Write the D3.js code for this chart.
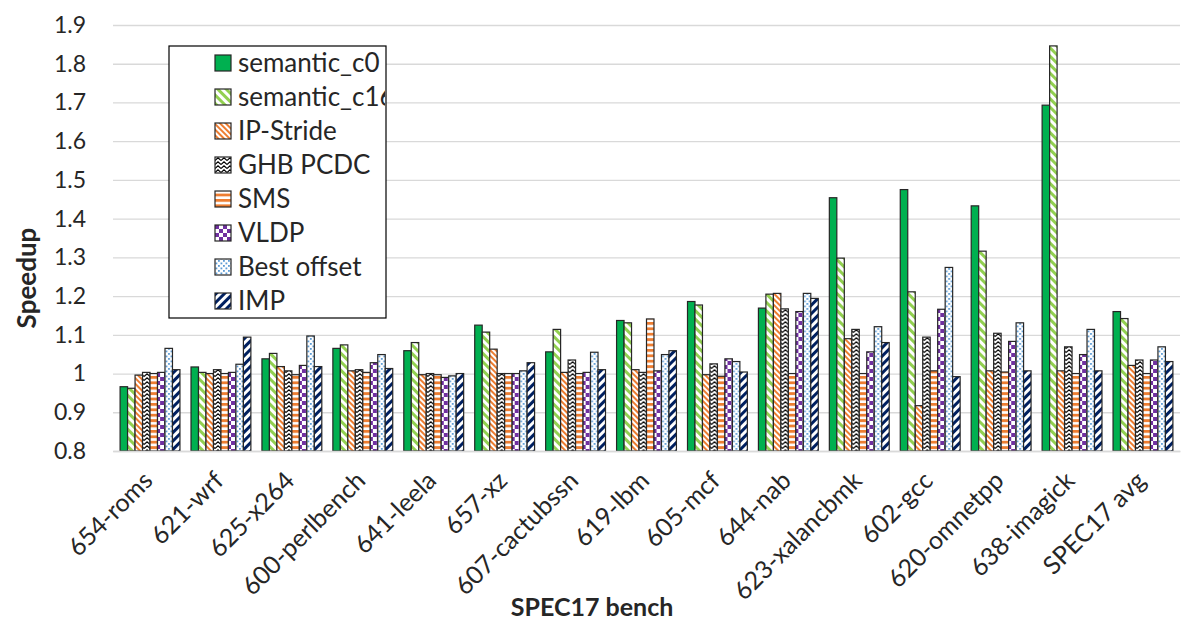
<!DOCTYPE html>
<html>
<head>
<meta charset="utf-8">
<script src="https://cdn.jsdelivr.net/npm/d3@7"></script>
<style>
    body { margin: 0; background: #fff; }
    svg { display: block; font-family: Lato, "Open Sans", sans-serif; }
</style>
</head>
<body>
<div id="chart"></div>
<script>
const benchmarks = ["654-roms", "621-wrf", "625-x264", "600-perlbench", "641-leela", "657-xz",
    "607-cactubssn", "619-lbm", "605-mcf", "644-nab", "623-xalancbmk", "602-gcc",
    "620-omnetpp", "638-imagick", "SPEC17 avg"];

const seriesNames = ["semantic_c0", "semantic_c16", "IP-Stride", "GHB PCDC", "SMS", "VLDP", "Best offset", "IMP"];

const semanticC0  = [0.966, 1.017, 1.038, 1.065, 1.059, 1.125, 1.056, 1.137, 1.186, 1.169, 1.454, 1.475, 1.433, 1.693, 1.160];
const semanticC16 = [0.962, 1.003, 1.052, 1.074, 1.080, 1.107, 1.114, 1.131, 1.177, 1.205, 1.298, 1.211, 1.316, 1.846, 1.142];
const ipStride    = [0.996, 1.000, 1.018, 1.007, 0.997, 1.063, 1.003, 1.010, 0.997, 1.207, 1.090, 0.917, 1.007, 1.007, 1.021];
const ghbPcdc     = [1.003, 1.010, 1.007, 1.010, 1.000, 1.000, 1.035, 1.003, 1.025, 1.167, 1.114, 1.094, 1.104, 1.069, 1.035];
const sms         = [1.000, 1.000, 0.997, 1.003, 0.997, 1.000, 1.000, 1.141, 0.993, 1.000, 1.000, 1.007, 1.004, 1.000, 1.000];
const vldp        = [1.003, 1.003, 1.021, 1.028, 0.990, 1.000, 1.003, 1.007, 1.038, 1.160, 1.056, 1.166, 1.083, 1.049, 1.035];
const bestOffset  = [1.065, 1.024, 1.097, 1.049, 0.994, 1.007, 1.055, 1.049, 1.031, 1.207, 1.121, 1.274, 1.131, 1.114, 1.069];
const imp         = [1.010, 1.094, 1.018, 1.013, 1.000, 1.028, 1.010, 1.059, 1.004, 1.194, 1.080, 0.992, 1.007, 1.007, 1.031];

const yTicks = [0.8, 0.9, 1.0, 1.1, 1.2, 1.3, 1.4, 1.5, 1.6, 1.7, 1.8, 1.9];
const yTickLabels = ["0.8", "0.9", "1", "1.1", "1.2", "1.3", "1.4", "1.5", "1.6", "1.7", "1.8", "1.9"];

const seriesValues = [semanticC0, semanticC16, ipStride, ghbPcdc, sms, vldp, bestOffset, imp];

const W = 1196, H = 625;
const margin = { top: 25, right: 16, bottom: 174, left: 113 };
const width = W - margin.left - margin.right;
const height = H - margin.top - margin.bottom;

const svg = d3.select("#chart").append("svg")
    .attr("width", W)
    .attr("height", H);

// Fill patterns, one per series
const defs = svg.append("defs");

function stripes(id, color, size, band, angle) {
    const p = defs.append("pattern")
        .attr("id", id)
        .attr("patternUnits", "userSpaceOnUse")
        .attr("width", size).attr("height", size)
        .attr("patternTransform", `rotate(${angle})`);
    p.append("rect").attr("width", size).attr("height", size).attr("fill", "#fff");
    p.append("rect").attr("width", band).attr("height", size).attr("fill", color);
}

stripes("p-c16", "#92D050", 6, 3, -45);
stripes("p-ip", "#ED7D31", 4, 2, -45);
stripes("p-imp", "#002060", 6, 3, 45);

// horizontal stripes for SMS
const pSms = defs.append("pattern")
    .attr("id", "p-sms").attr("patternUnits", "userSpaceOnUse")
    .attr("width", 6).attr("height", 5.4);
pSms.append("rect").attr("width", 6).attr("height", 5.4).attr("fill", "#fff");
pSms.append("rect").attr("width", 6).attr("height", 2.8).attr("fill", "#ED7D31");

// zigzag for GHB PCDC
const pGhb = defs.append("pattern")
    .attr("id", "p-ghb").attr("patternUnits", "userSpaceOnUse")
    .attr("width", 6).attr("height", 4);
pGhb.append("rect").attr("width", 6).attr("height", 4).attr("fill", "#fff");
pGhb.append("path").attr("d", "M0,3.5 L3,0.8 L6,3.5")
    .attr("fill", "none").attr("stroke", "#000").attr("stroke-width", 1.1);

// checkerboard for VLDP
const pVldp = defs.append("pattern")
    .attr("id", "p-vldp").attr("patternUnits", "userSpaceOnUse")
    .attr("width", 8).attr("height", 8);
pVldp.append("rect").attr("width", 8).attr("height", 8).attr("fill", "#fff");
pVldp.append("rect").attr("width", 4).attr("height", 4).attr("fill", "#7030A0");
pVldp.append("rect").attr("x", 4).attr("y", 4).attr("width", 4).attr("height", 4).attr("fill", "#7030A0");

// dots for Best offset
const pBo = defs.append("pattern")
    .attr("id", "p-bo").attr("patternUnits", "userSpaceOnUse")
    .attr("width", 5).attr("height", 5);
pBo.append("rect").attr("width", 5).attr("height", 5).attr("fill", "#fff");
pBo.append("rect").attr("x", 0.5).attr("y", 0.5).attr("width", 1.8).attr("height", 1.8).attr("fill", "#5B9BD5");
pBo.append("rect").attr("x", 3).attr("y", 3).attr("width", 1.8).attr("height", 1.8).attr("fill", "#5B9BD5");

// legend text is cut off at the box edge, as in the original
defs.append("clipPath").attr("id", "legend-clip")
    .append("rect").attr("width", 216).attr("height", 272);

const fills = ["#00B050", "url(#p-c16)", "url(#p-ip)", "url(#p-ghb)", "url(#p-sms)", "url(#p-vldp)", "url(#p-bo)", "url(#p-imp)"];

const g = svg.append("g")
    .attr("transform", `translate(${margin.left},${margin.top})`);

// Scales
const x0 = d3.scaleBand()
    .domain(benchmarks)
    .range([0, width])
    .paddingInner(0.156)
    .paddingOuter(0.1);

const x1 = d3.scaleBand()
    .domain(seriesNames)
    .range([0, x0.bandwidth()]);

const y = d3.scaleLinear()
    .domain([0.8, 1.9])
    .range([height, 0]);

// Grid lines
g.append("g")
    .call(d3.axisLeft(y).tickValues(yTicks).tickSize(-width).tickFormat(""))
    .call(a => a.select(".domain").remove())
    .call(a => a.selectAll("line").attr("stroke", "#D9D9D9").attr("stroke-width", 1.3));

// Y axis labels
g.append("g")
    .call(d3.axisLeft(y).tickValues(yTicks).tickSize(0).tickPadding(27)
        .tickFormat((d, i) => yTickLabels[i]))
    .call(a => a.select(".domain").remove())
    .call(a => a.selectAll("text")
        .attr("fill", "#262626")
        .style("font-size", "23px")
        .style("font-family", "Lato, sans-serif"));

// Bars
const rows = benchmarks.map((b, i) => ({ bench: b, values: seriesValues.map(s => s[i]) }));

g.selectAll(".group")
    .data(rows)
    .enter().append("g")
    .attr("class", "group")
    .attr("transform", d => `translate(${x0(d.bench)},0)`)
    .selectAll("rect")
    .data(d => d.values.map((v, k) => ({ name: seriesNames[k], v, k })))
    .enter().append("rect")
    .attr("x", d => x1(d.name))
    .attr("y", d => y(d.v))
    .attr("width", x1.bandwidth())
    .attr("height", d => y(0.8) - y(d.v))
    .attr("fill", d => fills[d.k])
    .attr("stroke", "#262626")
    .attr("stroke-width", 1.2);

// X axis
g.append("g")
    .attr("transform", `translate(0,${height})`)
    .call(d3.axisBottom(x0).tickSize(0))
    .call(a => a.select(".domain").attr("stroke", "#D9D9D9").attr("stroke-width", 1.3))
    .call(a => a.selectAll("text")
        .attr("fill", "#262626")
        .style("font-size", "25px")
        .style("font-family", "Lato, sans-serif")
        .attr("text-anchor", "end")
        .attr("y", 0)
        .attr("dy", "0.35em")
        .attr("transform", "translate(-2,25) rotate(-45)"));

// Axis titles
svg.append("text")
    .attr("transform", "translate(36,278) rotate(-90)")
    .attr("text-anchor", "middle")
    .attr("fill", "#262626")
    .style("font-size", "26px")
    .style("font-weight", "bold")
    .text("Speedup");

svg.append("text")
    .attr("x", 592)
    .attr("y", 616)
    .attr("text-anchor", "middle")
    .attr("fill", "#262626")
    .style("font-size", "25px")
    .style("font-weight", "bold")
    .text("SPEC17 bench");

// Legend
const legend = svg.append("g")
    .attr("transform", "translate(169,46)");

legend.append("rect")
    .attr("width", 217).attr("height", 272)
    .attr("fill", "#fff")
    .attr("stroke", "#000")
    .attr("stroke-width", 1.2);

const legendItems = legend.append("g").attr("clip-path", "url(#legend-clip)");

seriesNames.forEach((name, i) => {
    const row = legendItems.append("g")
        .attr("transform", `translate(46,${17 + i * 34})`);
    row.append("rect")
        .attr("y", -8).attr("width", 16).attr("height", 16)
        .attr("fill", fills[i])
        .attr("stroke", "#262626")
        .attr("stroke-width", 1.2);
    row.append("text")
        .attr("x", 23).attr("dy", "0.36em")
        .attr("fill", "#262626")
        .style("font-size", "26px")
        .text(name);
});
</script>
</body>
</html>
